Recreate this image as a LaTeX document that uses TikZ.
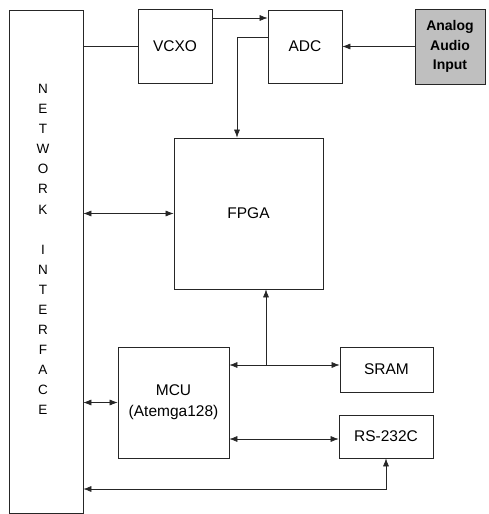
\documentclass[tikz,border=0pt]{standalone}
\usepackage{fontspec}
\setmainfont{Liberation Sans}
\usetikzlibrary{arrows.meta}
\begin{document}
\begin{tikzpicture}[x=1pt,y=-1pt,
  blk/.style={draw=black!85, line width=0.7pt, inner sep=0pt, font=\fontsize{15.5}{21}\selectfont, align=center},
  tip/.tip={Latex[length=8pt,width=6pt]},
  arr/.style={-tip, line width=0.6pt, draw=black!85},
  darr/.style={tip-tip, line width=0.6pt, draw=black!85},
  ln/.style={line width=0.6pt, draw=black!85},
  letter/.style={font=\fontsize{13.5}{16}\selectfont, inner sep=0pt}]
\useasboundingbox (0,0) rectangle (489,514);

\node[blk, minimum width=74pt, minimum height=503pt] (ni) at (46,261.5) {};
\foreach \l [count=\i from 0] in {N,E,T,W,O,R,K,{},I,N,T,E,R,F,A,C,E}
  \node[letter] (nl\i) at (43,89+20.06*\i) {\l};

\node[blk, minimum width=74pt, minimum height=74pt] (vcxo) at (175,46) {VCXO};
\node[blk, minimum width=74pt, minimum height=73pt] (adc) at (305,46.5) {ADC};
\node[blk, minimum width=70pt, minimum height=75pt, fill=black!25,
      font=\fontsize{14}{19.5}\selectfont\bfseries] (ain) at (450,46.5) {Analog\\Audio\\Input};
\node[blk, minimum width=149pt, minimum height=151pt] (fpga) at (248.5,213.5) {FPGA};
\node[blk, minimum width=111pt, minimum height=111pt] (mcu) at (173.5,402.5) {MCU\\(Atemga128)};
\node[blk, minimum width=93pt, minimum height=45pt] (sram) at (386.5,369.5) {SRAM};
\node[blk, minimum width=94pt, minimum height=43pt] (rs) at (386,436.5) {RS-232C};

\coordinate (c1) at (237,37);
\coordinate (c2) at (266,365);
\coordinate (c3) at (386,489);

\draw[ln] (ni.east |- vcxo.west) -- (vcxo.west);
\draw[arr] (vcxo.east |- 0,18) -- (adc.west |- 0,18);
\draw[arr] (ain.west) -- (adc.east);
\draw[arr] (adc.west |- c1) -- (c1) -- (c1 |- fpga.north);
\draw[darr] (ni.east |- fpga.west) -- (fpga.west);
\draw[darr] (mcu.east |- c2) -- (sram.west |- c2);
\draw[arr] (c2) -- (c2 |- fpga.south);
\draw[darr] (mcu.east |- 0,439) -- (rs.west |- 0,439);
\draw[darr] (ni.east |- mcu.west) -- (mcu.west);
\draw[darr] (ni.east |- c3) -- (c3) -- (c3 |- rs.south);
\end{tikzpicture}
\end{document}
